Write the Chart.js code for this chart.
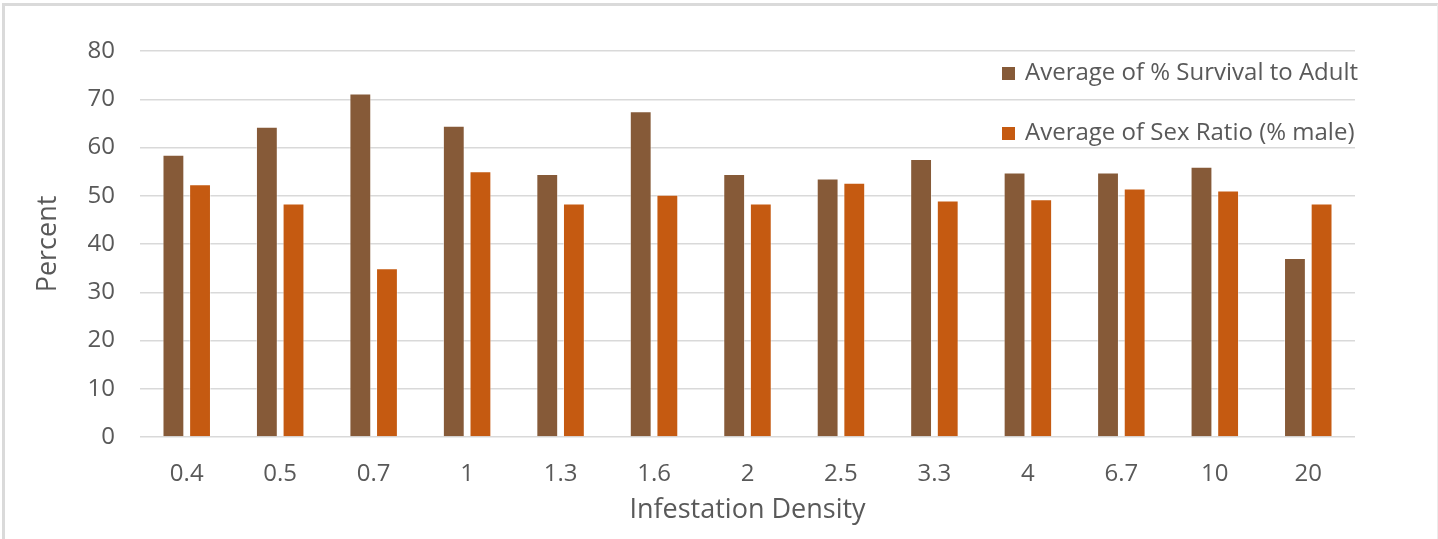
<!DOCTYPE html>
<html lang="en">
<head>
    <meta charset="UTF-8">
    <title>Survival and Sex Ratio by Infestation Density</title>
    <script src="https://cdn.jsdelivr.net/npm/chart.js"></script>
    <style>
        html, body { margin: 0; padding: 0; background: #fff; }
        .chart-wrap { position: relative; width: 1438px; height: 539px; }
        .frame {
            position: absolute; left: 2px; top: 3px; right: 0; bottom: 0;
            border-left: 3px solid #dadada; border-top: 3px solid #dadada;
            border-right: 1px solid #ececec;
            pointer-events: none;
        }
    </style>
</head>
<body>
    <div class="chart-wrap">
        <canvas id="densityChart"></canvas>
        <div class="frame"></div>
    </div>

    <script>
        // data
        const densities = ['0.4', '0.5', '0.7', '1', '1.3', '1.6', '2', '2.5', '3.3', '4', '6.7', '10', '20'];
        const survival = [58.5, 64.3, 71.2, 64.5, 54.5, 67.5, 54.5, 53.6, 57.6, 54.8, 54.8, 56.0, 37.1];
        const sexRatio = [52.4, 48.4, 35.0, 55.1, 48.4, 50.2, 48.4, 52.7, 49.0, 49.3, 51.5, 51.1, 48.4];
        const yTicks = [0, 10, 20, 30, 40, 50, 60, 70, 80];

        const textColor = '#595959';
        const fontFamily = "'Open Sans', 'Noto Sans', sans-serif";

        // legend drawn inside the plot, top right, like the original
        const insideLegend = {
            id: 'insideLegend',
            afterDraw(chart) {
                const { ctx, chartArea } = chart;
                const x = chartArea.right - 353;
                const rows = [chartArea.top + 22, chartArea.top + 82];
                ctx.save();
                ctx.font = '24px ' + fontFamily;
                ctx.textBaseline = 'middle';
                ctx.textAlign = 'left';
                chart.data.datasets.forEach((ds, i) => {
                    ctx.fillStyle = ds.backgroundColor;
                    ctx.fillRect(x, rows[i] - 6, 13, 13);
                    ctx.fillStyle = textColor;
                    ctx.fillText(ds.label, x + 23, rows[i]);
                });
                ctx.restore();
            }
        };

        const ctx = document.getElementById('densityChart').getContext('2d');
        new Chart(ctx, {
            type: 'bar',
            data: {
                labels: densities,
                datasets: [{
                    label: 'Average of % Survival to Adult',
                    data: survival,
                    backgroundColor: '#865a38',
                    borderColor: 'rgba(255,255,255,0.45)',
                    borderWidth: 1,
                    categoryPercentage: 0.57,
                    barPercentage: 0.82
                }, {
                    label: 'Average of Sex Ratio (% male)',
                    data: sexRatio,
                    backgroundColor: '#c55a11',
                    borderColor: 'rgba(255,255,255,0.45)',
                    borderWidth: 1,
                    categoryPercentage: 0.57,
                    barPercentage: 0.82
                }]
            },
            options: {
                responsive: true,
                maintainAspectRatio: false,
                animation: false,
                layout: { padding: { left: 0, right: 83, top: 51, bottom: 0 } },
                plugins: {
                    legend: { display: false },
                    tooltip: { enabled: false }
                },
                scales: {
                    x: {
                        grid: { display: false, drawTicks: false },
                        border: { display: false },
                        ticks: { color: textColor, font: { family: fontFamily, size: 24 }, padding: 23 },
                        title: {
                            display: true,
                            text: 'Infestation Density',
                            color: textColor,
                            font: { family: fontFamily, size: 27 },
                            padding: { top: 0, bottom: 12 }
                        },
                        afterFit: s => { s.height = 102; }
                    },
                    y: {
                        min: 0,
                        max: 80,
                        afterBuildTicks: s => { s.ticks = yTicks.map(v => ({ value: v })); },
                        grid: { color: '#d9d9d9', lineWidth: 1.5, drawTicks: false },
                        border: { display: false },
                        ticks: { color: textColor, font: { family: fontFamily, size: 24 }, padding: 25 },
                        title: {
                            display: true,
                            text: 'Percent',
                            color: textColor,
                            font: { family: fontFamily, size: 27 },
                            padding: { top: 32, bottom: 0 }
                        },
                        afterFit: s => { s.width = 140; }
                    }
                }
            },
            plugins: [insideLegend]
        });
    </script>
</body>
</html>
